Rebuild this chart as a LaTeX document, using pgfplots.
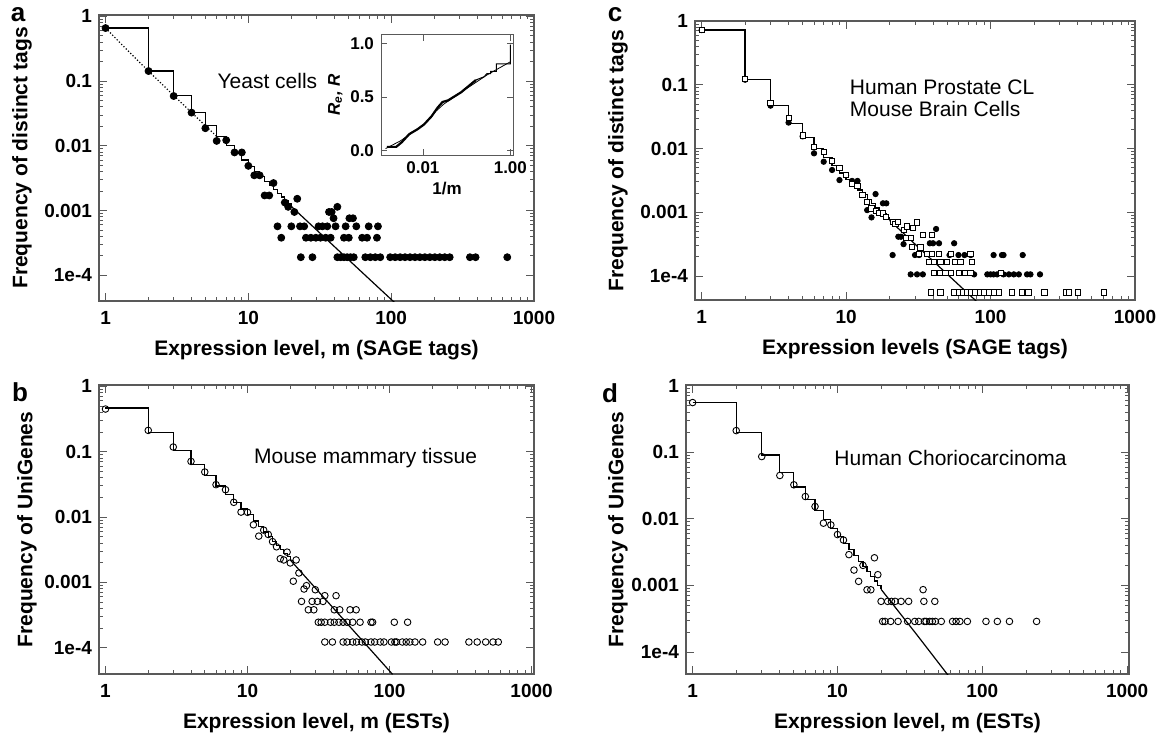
\documentclass[border=0pt]{standalone}
\usepackage{fontspec}
\setmainfont{Liberation Sans}
\usepackage{pgfplots}
\pgfplotsset{compat=1.18}
\pgfplotsset{
  pnl/.style={
    xtick={1,10,100,1000}, xticklabels={1,10,100,1000},
    ytick={0.0001,0.001,0.01,0.1,1}, yticklabels={1e-4,0.001,0.01,0.1,1},
    tick align=inside,
    major tick length=4pt, minor tick length=2pt,
    axis line style={black!65, line width=0.6pt},
    tick style={black!65, line width=0.4pt},
    tick label style={font=\fontsize{9.5}{11}\selectfont\bfseries},
    xticklabel style={yshift=-1.5pt},
    every axis x label/.style={at={(axis description cs:0.5,0)}, anchor=center, yshift=-24.5pt, font=\fontsize{10.5}{12}\selectfont\bfseries},
    every axis y label/.style={at={(axis description cs:0,0.5)}, anchor=center, font=\fontsize{10.5}{12}\selectfont\bfseries},
  },
  stair/.style={black, line width=0.6pt, const plot, no markers},
  fdot/.style={only marks, mark=*, mark size=1.75pt, mark options={fill=black, draw=black}},
  odot/.style={only marks, mark=o, mark size=1.65pt, mark options={draw=black, line width=0.45pt}},
  osq/.style={only marks, mark=square*, mark size=1.3pt, mark options={fill=white, draw=black, line width=0.45pt}},
}
\begin{document}
\begin{tikzpicture}
\useasboundingbox (0pt,0pt) rectangle (581.5pt,-369pt);

% ---------------- panel a ----------------
\begin{axis}[xmode=log, ymode=log, scale only axis, pnl, at={(49.5pt,-7.5pt)}, anchor=north west, width=217.5pt, height=143pt,
  xmin=0.9, xmax=1000, ymin=4e-5, ymax=1.05,
  xlabel={Expression level, m (SAGE tags)}, ylabel={Frequency of distinct tags},
  ylabel style={xshift=-38.5pt, rotate=90}]
\addplot[black, densely dotted, line width=0.6pt] coordinates {
 (1,0.660) (1.5,0.267) (2,0.1427) (3,0.0600) (4,0.0327) (5,0.02047) (6,0.01398)};
\addplot[stair] coordinates {
 (1,0.660) (2,0.1427) (3,0.0600) (4,0.0327) (5,0.02047) (6,0.01398) (7,0.01015)
 (8,0.00769) (9,0.00602) (10,0.00484) (11,0.003975) (12,0.00332) (13,0.00281)
 (14,0.002414) (15,0.002094) (16,0.001833) (17,0.001617) (18,0.001438) (19,0.001286) (20,0.001157)};
\addplot[black, line width=0.6pt, no markers] coordinates {
 (20,0.001157) (40,0.000278) (70,0.000088) (111,0.0000342)};
\addplot[fdot] coordinates {
 (1,0.66) (2,0.143) (3,0.0588) (4,0.0326) (5,0.0187) (6,0.0119) (7,0.0122) (8,0.0079) (9,0.0079)
 (10,0.0049) (11,0.0035) (12,0.0035) (13,0.00171) (14,0.00171) (15,0.00266) (16,0.00057)
 (17,0.00038) (18,0.00133) (19,0.00114) (20,0.00057) (21,0.00095) (22,0.00152) (23,0.00057)
 (24.6,0.00057) (23.3,0.00019) (25.3,0.00038) (27.4,0.00038) (28.1,0.00019) (29.7,0.00038)
 (31,0.00057) (32,0.00038) (33,0.00057) (34.8,0.00038) (35.7,0.00057) (36.7,0.00095)
 (38.3,0.00095) (37.7,0.00038) (39.5,0.00076) (40.8,0.00057) (42,0.00114) (42,0.00019)
 (44.3,0.00019) (46.7,0.00038) (46.7,0.00019) (48,0.00057) (49.2,0.00019) (50.5,0.00038)
 (51,0.00076) (51.9,0.00019) (54,0.00076) (54.7,0.00019) (57,0.00057) (62.6,0.00038)
 (65.9,0.00019) (67.8,0.00038) (69.6,0.00057) (71.5,0.00019) (77.4,0.00019) (79.5,0.00038)
 (80.8,0.00057) (83.9,0.00019) (98.4,0.00019) (106.6,0.00019) (115.5,0.00019) (125,0.00019)
 (135.5,0.00019) (146.8,0.00019) (158.9,0.00019) (172.2,0.00019) (186.6,0.00019)
 (202.2,0.00019) (218.8,0.00019) (237.1,0.00019) (256.9,0.00019) (356,0.00019)
 (390,0.00019) (650,0.00019)};
\node[font=\fontsize{10.5}{12}\selectfont] at (axis cs:13.6,0.1) {Yeast cells};
\end{axis}

% inset
\begin{axis}[xmode=log, scale only axis, at={(190.5pt,-17.5pt)}, anchor=north west, width=66pt, height=60pt,
  xmin=0.0011, xmax=1.15, ymin=-0.04, ymax=1.08,
  xtick={0.01,1}, xticklabels={0.01,1.00}, ytick={0,0.5,1}, yticklabels={0.0,0.5,1.0},
  tick align=inside, major tick length=3pt, minor tick length=1.5pt,
  axis line style={black!65, line width=0.5pt}, tick style={black!65, line width=0.4pt},
  axis background/.style={fill=white},
  tick label style={font=\fontsize{8.5}{10}\selectfont\bfseries},
  xlabel={1/m}, ylabel={\itshape R\textsubscript{e}, R},
  label style={font=\fontsize{8.5}{10}\selectfont\bfseries},
  xlabel style={yshift=3pt}, ylabel style={yshift=-3pt}]
\addplot[black, line width=0.4pt, no markers] coordinates {
 (0.0014,0.02) (0.003,0.09) (0.01,0.235) (0.02,0.37) (0.03,0.435) (0.1,0.58) (0.3,0.71) (1,0.83)};
\addplot[black, line width=1.1pt, no markers] coordinates {
 (0.0015,0.036) (0.00245,0.036) (0.0033,0.08) (0.0049,0.156) (0.0075,0.2) (0.0106,0.245)
 (0.0157,0.32) (0.0215,0.40) (0.0281,0.455) (0.0377,0.47) (0.0746,0.545) (0.163,0.66)};
\addplot[black, line width=0.5pt, no markers] coordinates {
 (0.163,0.66) (0.25,0.69) (0.292,0.72) (0.356,0.72) (0.356,0.74) (0.476,0.74) (0.476,0.81)
 (1,0.81) (1,0.99)};
\end{axis}

% ---------------- panel c ----------------
\begin{axis}[xmode=log, ymode=log, scale only axis, pnl, at={(347.5pt,-10.5pt)}, anchor=north west, width=220pt, height=139.5pt,
  xmin=0.9, xmax=1000, ymin=4.2e-5, ymax=1.0,
  xlabel={Expression levels (SAGE tags)}, ylabel={Frequency of distinct tags},
  ylabel style={xshift=-38.5pt, rotate=90}]
\addplot[stair] coordinates {
 (1,0.720) (2,0.1215) (3,0.0470) (4,0.02451) (5,0.01492) (6,0.00999) (7,0.00713) (8,0.00534)
 (9,0.00414) (10,0.003295) (11,0.002684) (12,0.002227) (13,0.001876) (14,0.001601)
 (15,0.001381) (16,0.001204) (17,0.001058) (18,0.000937) (19,0.000834) (20,0.000748)};
\addplot[black, line width=0.6pt, no markers] coordinates {
 (20,0.000748) (40,0.000172) (82,0.0000379)};
\addplot[fdot, mark size=1.35pt] coordinates {
 (1,0.72) (2,0.12) (3,0.047) (4,0.0255) (5,0.0155) (6,0.0084) (7,0.0062) (8,0.0046) (9,0.0032)
 (10,0.0038) (11,0.0031) (12,0.0031) (14,0.00108) (15,0.00083) (16,0.00193) (18,0.00138)
 (19,0.00138) (21,0.000213) (23,0.000413) (24,0.000413) (25,0.000316) (28,0.000106)
 (30,0.000213) (32,0.000213) (31,0.000106) (34,0.000106) (38,0.000326) (40,0.000326)
 (44,0.000326) (42,0.000546) (52,0.000213) (60,0.000213) (66,0.000213) (73,0.000213)
 (56,0.000326) (77,0.000106) (95,0.000106) (100,0.000106) (105,0.000106) (111,0.000106)
 (123,0.000106) (134,0.000106) (145,0.000106) (157,0.000106) (179,0.000106) (189,0.000106)
 (220,0.000106) (105,0.000213) (120,0.000213) (123,0.000213) (167,0.000213)};
\addplot[osq] coordinates {
 (1,0.72) (2,0.122) (3,0.0513) (4,0.0299) (5,0.016) (6,0.0105) (7,0.0089) (8,0.0063) (9,0.0049)
 (10,0.0039) (11,0.0028) (12,0.0026) (13,0.00186) (14,0.00147) (15,0.00115) (16,0.00106)
 (17,0.00098) (18,0.00096) (19,0.00085) (21,0.00071) (22,0.00066) (23,0.00071) (25,0.00053)
 (26.5,0.0006) (29,0.00056) (31,0.00069) (34,0.00044) (39.5,0.00044) (26,0.00039)
 (28,0.00039) (28.6,0.000288) (32.7,0.00028)
 (31.9,0.00022) (36.4,0.00022) (39.5,0.00022) (43.8,0.00022) (52.9,0.00022) (72.7,0.00022)
 (37.4,0.000165) (40.5,0.000165) (45,0.000165) (50,0.000165) (57,0.000165) (62,0.000165) (74,0.000165)
 (40.5,0.00011) (45,0.00011) (48.8,0.00011) (53.4,0.00011) (60.3,0.00011) (66.2,0.00011)
 (72.7,0.00011) (118,0.00011)
 (38.8,0.000055) (45,0.000055) (55.7,0.000055) (60.3,0.000055) (64.7,0.000055) (68.9,0.000055)
 (73.4,0.000055) (78.7,0.000055) (84.3,0.000055) (89.9,0.000055) (97.3,0.000055) (105,0.000055)
 (114,0.000055) (140,0.000055) (164,0.000055) (183,0.000055) (236,0.000055) (334,0.000055)
 (350,0.000055) (405,0.000055) (611,0.000055)};
\node[anchor=west, font=\fontsize{10.5}{12}\selectfont] at (axis cs:9.5,0.091) {Human Prostate CL};
\node[anchor=west, font=\fontsize{10.5}{12}\selectfont] at (axis cs:9.5,0.041) {Mouse Brain Cells};
\end{axis}

% ---------------- panel b ----------------
\begin{axis}[xmode=log, ymode=log, scale only axis, pnl, at={(49.5pt,-192.5pt)}, anchor=north west, width=217.5pt, height=144.5pt,
  xmin=0.9, xmax=1040, ymin=3.95e-5, ymax=1.05,
  xlabel={Expression level, m (ESTs)}, ylabel={Frequency of UniGenes},
  ylabel style={xshift=-36pt, rotate=90}]
\addplot[stair] coordinates {
 (1,0.466) (2,0.197) (3,0.1035) (4,0.063) (5,0.043) (6,0.0299) (7,0.0219) (8,0.0168) (9,0.0133)
 (10,0.0108) (11,0.00867) (12,0.0071) (13,0.0059) (14,0.00498) (15,0.00425) (16,0.00366)
 (17,0.00319) (18,0.0028) (19,0.00247) (20,0.0022)};
\addplot[black, line width=0.6pt, no markers] coordinates {(20,0.0022) (105,0.000039)};
\addplot[odot] coordinates {
 (1,0.45) (2,0.212) (3,0.118) (4,0.071) (5,0.0489) (6,0.0313) (7,0.0262) (8,0.0168) (9,0.0119)
 (10,0.0118) (11,0.0076) (12,0.0051) (13,0.0063) (14,0.0054) (15,0.0042) (16,0.0035)
 (17,0.0023) (18,0.0022) (19,0.0029) (20,0.00198) (22,0.0022) (21,0.00104) (23,0.00139)
 (25,0.00079) (26,0.00089) (24,0.00051) (28.5,0.00051) (31,0.00051) (34,0.00051) (30,0.00077)
 (26.8,0.00038) (29.3,0.00038) (35,0.000625) (42,0.000625) (40.8,0.00038) (44.6,0.00038)
 (52.7,0.00038) (58.2,0.00038)
 (31.5,0.000245) (33,0.000245) (35,0.000245) (38.4,0.000245) (40.8,0.000245) (44,0.000245)
 (47.1,0.000245) (50.2,0.000245) (55,0.000245) (62,0.000245) (74,0.000245) (76,0.000245)
 (108,0.000245) (134,0.000245)
 (35,0.000122) (39.6,0.000122) (47.1,0.000122) (50.2,0.000122) (55,0.000122) (58.5,0.000122)
 (63.9,0.000122) (67.6,0.000122) (74,0.000122) (78.6,0.000122) (86,0.000122) (91.3,0.000122)
 (103,0.000122) (109,0.000122) (112,0.000122) (123,0.000122) (131,0.000122) (139,0.000122)
 (151,0.000122) (171,0.000122) (218,0.000122) (246,0.000122) (362,0.000122) (414,0.000122)
 (475,0.000122) (535,0.000122) (583,0.000122)};
\node[font=\fontsize{10.5}{12}\selectfont] at (axis cs:67.8,0.08) {Mouse mammary tissue};
\end{axis}

% ---------------- panel d ----------------
\begin{axis}[xmode=log, ymode=log, scale only axis, pnl, at={(343pt,-192.5pt)}, anchor=north west, width=221.5pt, height=144.5pt,
  xmin=0.9, xmax=1030, ymin=4.68e-5, ymax=1.02,
  xlabel={Expression level, m (ESTs)}, ylabel={Frequency of UniGenes},
  ylabel style={xshift=-34pt, rotate=90}]
\addplot[stair] coordinates {
 (1,0.556) (2,0.1952) (3,0.0906) (4,0.0494) (5,0.02995) (6,0.01952) (7,0.01345) (8,0.00967)
 (9,0.0072) (10,0.0055) (11,0.0043) (12,0.003426) (13,0.002779) (14,0.002284) (15,0.0019)
 (16,0.0016) (17,0.001358) (18,0.001164) (19,0.001006) (20,0.000875)};
\addplot[black, line width=0.6pt, no markers] coordinates {(20,0.000875) (35,0.0001865) (58,0.0000449)};
\addplot[odot] coordinates {
 (1,0.556) (2,0.211) (3,0.086) (4,0.0447) (5,0.0324) (6,0.0216) (7,0.0153) (8,0.0086) (9,0.0081)
 (10,0.0058) (11,0.0048) (12,0.0029) (13,0.0017) (14,0.00115) (15,0.002) (16,0.00086)
 (17,0.00086) (18,0.0026) (19,0.00145)
 (20,0.000576) (22.2,0.000576) (23.6,0.000576) (25,0.000576) (27.5,0.000576) (31,0.000576)
 (39.5,0.000576) (47,0.000576) (39,0.000864)
 (20.5,0.000288) (21.3,0.000288) (23.3,0.000288) (26.2,0.000288) (30.5,0.000288)
 (34.2,0.000288) (36.4,0.000288) (39.8,0.000288) (40.9,0.000288) (43.3,0.000288)
 (45.2,0.000288) (47.4,0.000288) (52.1,0.000288) (62.3,0.000288) (65.9,0.000288)
 (70,0.000288) (78.9,0.000288) (106,0.000288) (127,0.000288) (154,0.000288) (237,0.000288)};
\node[font=\fontsize{10.5}{12}\selectfont] at (axis cs:60.4,0.081) {Human Choriocarcinoma};
\end{axis}

% panel letters
\node[font=\fontsize{13}{14}\selectfont\bfseries] at (9pt,-7.5pt) {a};
\node[font=\fontsize{13}{14}\selectfont\bfseries] at (10pt,-196pt) {b};
\node[font=\fontsize{13}{14}\selectfont\bfseries] at (307.5pt,-7.5pt) {c};
\node[font=\fontsize{13}{14}\selectfont\bfseries] at (305pt,-196.5pt) {d};
\end{tikzpicture}
\end{document}
